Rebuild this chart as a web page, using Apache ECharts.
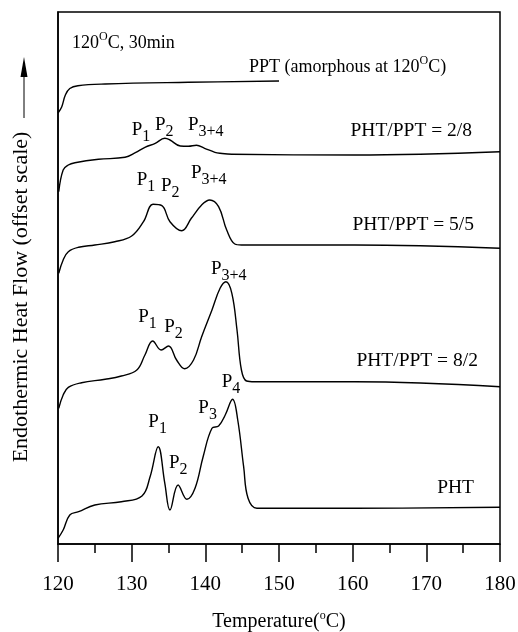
<!DOCTYPE html>
<html>
<head>
<meta charset="utf-8">
<script src="https://cdn.jsdelivr.net/npm/echarts@6/dist/echarts.min.js"></script>
<style>
  html, body { margin: 0; padding: 0; background: #fff; }
  #chart { width: 518px; height: 632px; }
</style>
</head>
<body>
<div id="chart"></div>
<script>
const SERIF = '"Liberation Serif", "DejaVu Serif", "Times New Roman", serif';

// DSC heating scans after annealing at 120 °C for 30 min (offset heat-flow units)
const tPPT = [120.0, 120.5, 121.0, 121.6, 122.7, 126.4, 137.7, 150.0];
const hfPPT = [431, 437, 449, 455.5, 458.3, 460, 461.7, 463];

const t28 = [120.1, 120.7, 121.4, 122.3, 125.5, 129.1, 130.5, 131.8, 133.2, 134.5, 135.2, 136.6, 137.7, 138.8, 139.9, 141.3, 142.0, 143.6, 160.3, 180.0];
const hf28 = [352.3, 374, 379, 381.3, 384.7, 386.7, 391.3, 396.7, 400.7, 405.7, 404, 398, 397.7, 398.7, 395.7, 391.7, 390.7, 389.7, 389, 392.3];

const t55 = [120.1, 120.7, 121.4, 122.8, 125.0, 127.7, 130.0, 131.6, 132.9, 134.1, 135.2, 136.8, 138.1, 139.5, 140.6, 141.8, 142.9, 144.0, 144.9, 160.3, 180.0];
const hf55 = [270.7, 284, 292.3, 296.7, 299, 302.3, 308, 322.3, 339.7, 338.3, 322.3, 313.3, 325.7, 339, 344, 337.3, 314, 300, 299, 299, 295.7];

const t82 = [120.1, 120.7, 121.4, 123.2, 126.4, 128.6, 130.7, 131.8, 132.85, 134.0, 135.0, 136.1, 137.2, 138.4, 139.5, 140.9, 142.0, 142.8, 143.6, 144.3, 144.9, 145.6, 146.7, 160.3, 180.0];
const hf82 = [135.7, 149, 156.7, 161.3, 164.7, 168, 174, 189, 203, 194, 198, 184, 175.3, 184, 207.3, 234, 255.7, 262.3, 250.7, 214, 174, 163, 162.3, 162.3, 157.3];

const tPHT = [120.0, 120.7, 121.6, 122.8, 125.0, 128.6, 131.4, 132.5, 133.6, 134.5, 135.2, 136.3, 137.5, 138.6, 139.7, 140.9, 141.8, 142.7, 143.7, 144.4, 145.2, 145.8, 147.0, 160.3, 180.0];
const hfPHT = [5.7, 14, 29, 32.3, 39, 42.3, 48, 67.3, 97.3, 60.7, 34, 59, 44.7, 55.7, 87.3, 115.7, 118, 129, 144.7, 124, 77.3, 45.7, 35.7, 35.7, 36.7];

// Axis ticks
const xTicks = [120, 130, 140, 150, 160, 170, 180];

// Peak annotations: [name, subscript, temperature, heat flow]
const peakNotes = [
  ['P', '1', 130.0, 413], ['P', '2', 133.17, 418], ['P', '3+4', 137.65, 418],
  ['P', '1', 130.68, 363], ['P', '2', 133.98, 357.3], ['P', '3+4', 138.05, 370],
  ['P', '1', 130.9, 226.5], ['P', '2', 134.43, 216.5], ['P', '3+4', 140.77, 274.5],
  ['P', '1', 132.26, 121.5], ['P', '2', 135.07, 80], ['P', '3', 139.05, 135], ['P', '4', 142.22, 161.5]
];

// Sample labels, right-aligned near the end of each trace: [text, temperature, heat flow]
const sampleNotes = [
  ['PHT/PPT = 2/8', 176.2, 403],
  ['PHT/PPT = 5/5', 176.47, 309],
  ['PHT/PPT = 8/2', 177.0, 173],
  ['PHT', 176.47, 46]
];

const zip = (a, b) => a.map((x, i) => [x, b[i]]);

function trace(name, t, hf) {
  return {
    name, type: 'line', data: zip(t, hf),
    showSymbol: false, smooth: 0.4, clip: true,
    lineStyle: { color: '#000', width: 1.4 },
    emphasis: { disabled: true }, silent: true
  };
}

const chart = echarts.init(document.getElementById('chart'), null, { renderer: 'canvas' });

const axisLineStyle = { color: '#000', width: 1.5 };

chart.setOption({
  animation: false,
  backgroundColor: '#fff',
  grid: {
    left: 58, right: 18, top: 12, bottom: 88,
    outerBoundsMode: 'none', containLabel: false,
    show: true, borderColor: '#000', borderWidth: 1.5
  },
  xAxis: {
    type: 'value', min: xTicks[0], max: xTicks[xTicks.length - 1], interval: 10,
    axisLine: { lineStyle: axisLineStyle },
    axisTick: { inside: false, length: 18, lineStyle: axisLineStyle },
    minorTick: { show: true, splitNumber: 2, length: 9, lineStyle: axisLineStyle },
    splitLine: { show: false },
    axisLabel: { color: '#000', fontFamily: SERIF, fontSize: 21, margin: 30 },
    name: '{t|Temperature(}{s|o}{t|C)}',
    nameLocation: 'middle', nameGap: 66,
    nameTextStyle: {
      rich: {
        t: { fontFamily: SERIF, fontSize: 20, color: '#000', lineHeight: 22, verticalAlign: 'bottom' },
        s: { fontFamily: SERIF, fontSize: 12, color: '#000', lineHeight: 12, verticalAlign: 'top' }
      }
    }
  },
  yAxis: {
    type: 'value', min: 0, max: 532,
    axisLine: { show: true, lineStyle: axisLineStyle },
    axisTick: { show: false }, axisLabel: { show: false }, splitLine: { show: false }
  },
  series: [
    trace('PPT', tPPT, hfPPT),
    trace('PHT/PPT = 2/8', t28, hf28),
    trace('PHT/PPT = 5/5', t55, hf55),
    trace('PHT/PPT = 8/2', t82, hf82),
    trace('PHT', tPHT, hfPHT)
  ]
});

// Text annotations placed through the axis scales
const px = (t, v) => chart.convertToPixel({ gridIndex: 0 }, [t, v]);
const peakRich = {
  p: { fontFamily: SERIF, fontSize: 19, fill: '#000', lineHeight: 24, verticalAlign: 'top' },
  s: { fontFamily: SERIF, fontSize: 16, fill: '#000', lineHeight: 16, verticalAlign: 'bottom' }
};
const supRich = {
  t: { fontFamily: SERIF, fontSize: 18, fill: '#000', lineHeight: 21, verticalAlign: 'bottom' },
  o: { fontFamily: SERIF, fontSize: 12, fill: '#000', lineHeight: 12, verticalAlign: 'top' }
};

const graphics = [];
peakNotes.forEach(([p, sub, t, v]) => {
  const [x, y] = px(t, v);
  graphics.push({
    type: 'text', x: x, y: y - 10, silent: true,
    style: { text: '{p|' + p + '}{s|' + sub + '}', rich: peakRich, align: 'left', verticalAlign: 'top' }
  });
});
sampleNotes.forEach(([txt, t, v]) => {
  const [x, y] = px(t, v);
  graphics.push({
    type: 'text', x: x, y: y, silent: true,
    style: { text: txt, fontFamily: SERIF, fontSize: 19.5, fill: '#000', align: 'right', verticalAlign: 'bottom' }
  });
});
(function () {
  const [x, y] = px(145.93, 468);
  graphics.push({
    type: 'text', x: x, y: y, silent: true,
    style: { text: '{t|PPT (amorphous at 120}{o|O}{t|C)}', rich: supRich, align: 'left', verticalAlign: 'bottom' }
  });
  const [x2, y2] = px(121.9, 492);
  graphics.push({
    type: 'text', x: x2, y: y2, silent: true,
    style: { text: '{t|120}{o|O}{t|C, 30min}', rich: supRich, align: 'left', verticalAlign: 'bottom' }
  });
})();

// Vertical axis title with upward arrow
graphics.push({
  type: 'text', x: 21, y: 297, rotation: Math.PI / 2, silent: true,
  style: { text: 'Endothermic Heat Flow (offset scale)', fontFamily: SERIF, fontSize: 22, fill: '#000', align: 'center', verticalAlign: 'middle' }
});
graphics.push({
  type: 'line', silent: true,
  shape: { x1: 24, y1: 118, x2: 24, y2: 74 },
  style: { stroke: '#000', lineWidth: 1 }
});
graphics.push({
  type: 'polygon', silent: true,
  shape: { points: [[24, 57], [20.5, 77], [27.5, 77]] },
  style: { fill: '#000' }
});

chart.setOption({ graphic: graphics });
</script>
</body>
</html>
